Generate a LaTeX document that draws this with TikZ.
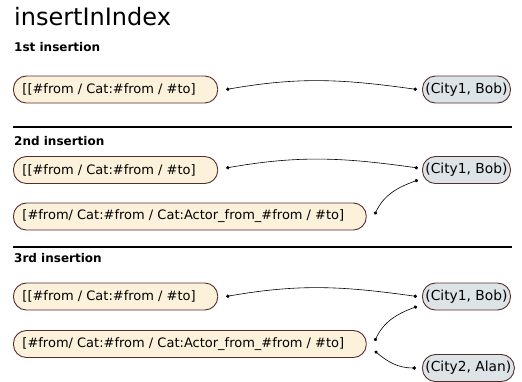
\documentclass[tikz,border=0pt]{standalone}
\usepackage{fontspec}
\setmainfont{DejaVu Sans}
\usetikzlibrary{arrows.meta}

\definecolor{keyfill}{HTML}{FCF1DA}
\definecolor{valfill}{HTML}{DCE4E8}
\definecolor{boxline}{HTML}{5A2C2C}

\begin{document}
\begin{tikzpicture}[x=1pt,y=1pt,
    keybox/.style={draw=boxline, fill=keyfill, line width=0.9pt, rounded corners=13pt,
      minimum height=27pt, inner ysep=0pt, inner xsep=9pt, anchor=west,
      font=\fontsize{13}{15}\selectfont, execute at end node={\hspace{13pt}}},
    valbox/.style={draw=boxline, fill=valfill, line width=0.9pt, rounded corners=13pt,
      minimum height=27pt, inner ysep=0pt, inner xsep=3pt, anchor=west,
      font=\fontsize{13.8}{15}\selectfont},
    heading/.style={anchor=base west, inner sep=0pt, font=\fontsize{12}{14}\selectfont\bfseries},
    link/.style={line width=0.6pt, {Circle[length=3.4pt]}-{Circle[length=3.4pt]}},
    rule/.style={line width=1.2pt}]

      \useasboundingbox (0,0) rectangle (522,-381);

% Title
      \node[anchor=base west, inner sep=0pt, font=\fontsize{24}{26}\selectfont] (title) at (14,-25) {insertInIndex};

% 1st insertion
      \node[heading] (h1) at (14,-51) {1st insertion};
      \node[keybox] (n1a) at (13,-89.5) {[[\#from / Cat:\#from / \#to]};
      \node[valbox] (c1a) at (422,-89.5) {(City1, Bob)};
      \coordinate (n1a-out) at ([xshift=8pt]n1a.east);
      \coordinate (c1a-in) at ([xshift=-5pt]c1a.west);
      \draw[link] (n1a-out) to[out=10,in=172] (c1a-in);

      \draw[rule] (13,-127) -- (512,-127);

% 2nd insertion
      \node[heading] (h2) at (14,-145) {2nd insertion};
      \node[keybox] (n2a) at (13,-170) {[[\#from / Cat:\#from / \#to]};
      \node[valbox] (c2a) at (422,-170) {(City1, Bob)};
      \node[keybox] (n2b) at (13,-216.5) {[\#from/ Cat:\#from / Cat:Actor\_from\_\#from / \#to]};
      \coordinate (n2a-out) at ([xshift=8pt,yshift=2pt]n2a.east);
      \coordinate (c2a-in) at ([xshift=-4pt,yshift=2pt]c2a.west);
      \coordinate (c2a-in2) at ([xshift=-4pt,yshift=-10pt]c2a.west);
      \coordinate (n2b-out) at ([xshift=8pt,yshift=2pt]n2b.east);
      \draw[link] (n2a-out) to[out=10,in=172] (c2a-in);
      \draw[link] (n2b-out) to[out=65,in=200] (c2a-in2);

      \draw[rule] (13,-247) -- (512,-247);

% 3rd insertion
      \node[heading] (h3) at (14,-262) {3rd insertion};
      \node[keybox] (n3a) at (13,-296.5) {[[\#from / Cat:\#from / \#to]};
      \node[valbox] (c3a) at (422,-296.5) {(City1, Bob)};
      \node[keybox] (n3b) at (13,-344) {[\#from/ Cat:\#from / Cat:Actor\_from\_\#from / \#to]};
      \node[valbox] (c3b) at (422,-368) {(City2, Alan)};
      \coordinate (n3a-out) at ([xshift=8pt]n3a.east);
      \coordinate (c3a-in) at ([xshift=-5pt]c3a.west);
      \coordinate (c3a-in2) at ([xshift=-5pt,yshift=-10pt]c3a.west);
      \coordinate (n3b-out) at ([xshift=8pt,yshift=3pt]n3b.east);
      \coordinate (n3b-out2) at ([xshift=8pt,yshift=-7pt]n3b.east);
      \coordinate (c3b-in) at ([xshift=-6pt]c3b.west);
      \draw[link] (n3a-out) to[out=10,in=172] (c3a-in);
      \draw[link] (n3b-out) to[out=65,in=200] (c3a-in2);
      \draw[link] (n3b-out2) to[out=-40,in=180] (c3b-in);

    \end{tikzpicture}
\end{document}
